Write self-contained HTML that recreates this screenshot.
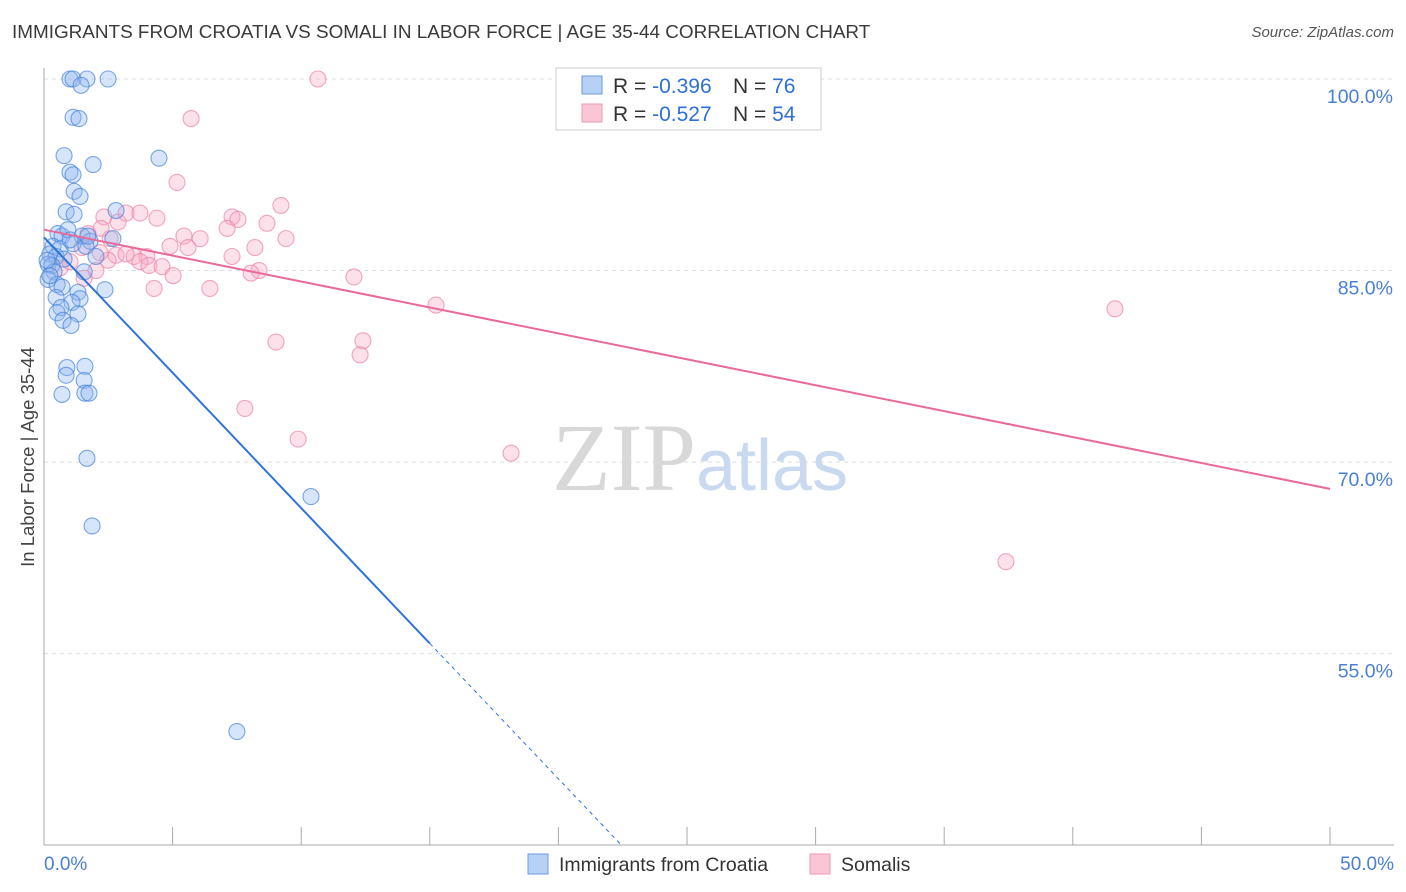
<!DOCTYPE html>
<html><head><meta charset="utf-8">
<style>
body{margin:0;background:#fff;font-family:"Liberation Sans",sans-serif;}
#wrap{position:relative;width:1406px;height:892px;overflow:hidden;}
.t{position:absolute;white-space:nowrap;}
</style></head>
<body>
<div id="wrap">
<div class="t" style="left:12px;top:22px;font-size:18.9px;color:#3a3a3a;">IMMIGRANTS FROM CROATIA VS SOMALI IN LABOR FORCE | AGE 35-44 CORRELATION CHART</div>
<div class="t" style="right:12px;top:24px;font-size:15px;color:#555;font-style:italic;">Source: ZipAtlas.com</div>
<svg id="svg" width="1406" height="892" style="position:absolute;left:0;top:0"></svg>
</div>
<script>
const blueX=[1.01,1.13,1.67,2.49,1.44,1.13,1.36,0.78,1.91,4.47,1.01,1.13,1.17,1.40,0.86,1.17,2.80,0.54,0.70,0.93,1.48,1.79,0.35,0.62,1.13,1.63,0.23,0.47,0.78,0.16,0.31,2.02,0.39,1.56,0.16,0.51,0.70,2.37,0.47,1.32,1.40,1.09,0.66,0.51,1.32,0.74,1.05,0.89,1.59,0.86,1.56,0.70,1.59,1.75,1.67,1.87,10.38,7.50,0.23,0.12,2.68,1.01,1.71];
const blueY=[100,100,100,100,99.5,97.0,96.9,94.0,93.3,93.8,92.7,92.5,91.2,90.8,89.6,89.4,89.7,87.9,87.7,88.2,87.7,87.3,86.9,86.7,87.1,86.9,86.3,86.1,85.9,85.5,85.4,86.1,84.9,84.9,84.3,83.9,83.7,83.5,82.9,83.3,82.8,82.5,82.1,81.7,81.6,81.1,80.7,77.4,77.5,76.8,76.4,75.3,75.4,75.4,70.3,65.0,67.3,48.9,84.6,85.8,87.5,87.4,87.7];
const pinkX=[10.65,5.72,5.17,2.33,2.88,3.19,3.73,4.39,2.22,1.71,2.57,1.48,6.07,5.44,4.90,5.60,7.31,7.54,7.12,8.67,9.21,9.41,8.20,7.31,4.00,2.80,3.50,2.49,3.73,4.08,4.59,8.36,8.05,5.02,2.02,1.56,4.28,6.45,12.05,15.24,9.02,12.40,12.29,7.81,9.88,18.16,37.40,41.64,0.62,1.01,2.18,3.19];
const pinkY=[100,96.9,91.9,89.2,88.8,89.5,89.5,89.1,88.3,87.9,87.5,86.8,87.5,87.7,86.9,86.8,89.2,89.0,88.3,88.7,90.1,87.5,86.8,86.1,86.1,86.2,86.1,85.8,85.7,85.4,85.3,85.0,84.8,84.6,85.0,84.4,83.6,83.6,84.5,82.3,79.4,79.5,78.4,74.2,71.8,70.7,62.2,82.0,85.2,85.7,86.4,86.3];
const blueLine=[87.6,-2.12];
const pinkLine=[88.2,-0.406];
const yTicks=[100,85,70,55];
const xTicks=[0,5,10,15,20,25,30,35,40,45,50];
const X=v=>44+v*25.72, Y=v=>79+(100-v)*12.77;
const svg=document.getElementById('svg');const NS='http://www.w3.org/2000/svg';
function mk(t,a,p){const e=document.createElementNS(NS,t);for(const k in a)e.setAttribute(k,a[k]);(p||svg).appendChild(e);return e;}
yTicks.forEach(v=>{const g=mk('line',{x1:44,x2:1394,y1:Y(v),y2:Y(v),stroke:'#ddd','stroke-dasharray':'4,4'});


const t=mk('text',{x:1393,y:Y(v)+24,'text-anchor':'end','font-size':19.5,fill:'#4a7fd4','font-family':'Liberation Sans'});t.textContent=v.toFixed(1)+'%';

});
const ax=mk('line',{x1:44,x2:44,y1:68,y2:845,stroke:'#aaa'});
const bx=mk('line',{x1:44,x2:1394,y1:845,y2:845,stroke:'#aaa'});
xTicks.forEach(v=>{const l=mk('line',{x1:X(v),x2:X(v),y1:827,y2:845,stroke:'#aaa'});

});
[[0,'0.0%','start',44],[50,'50.0%','end',1394]].forEach(d=>{const t=mk('text',{x:d[3],y:870,'text-anchor':d[2],'font-size':19,fill:'#4a7fd4','font-family':'Liberation Sans'});t.textContent=d[1];

});
const yt=mk('text',{x:34,y:457,'text-anchor':'middle','font-size':18.5,fill:'#444','font-family':'Liberation Sans',transform:'rotate(-90 34 457)'});yt.textContent='In Labor Force | Age 35-44';

const wm=mk('text',{x:720,y:490,'text-anchor':'middle','font-size':96,'font-family':'Liberation Serif',fill:'#d8d8d8'});wm.innerHTML='ZIP<tspan fill="#c9d9ef" font-family="Liberation Sans" font-size="72">atlas</tspan>';
wm.setAttribute('x','720');

wm.setAttribute('x','700');
function pts(xs,ys,fill,stroke,name){xs.forEach((x,i)=>{const c=mk('circle',{cx:X(x),cy:Y(ys[i]),r:8,fill:fill,stroke:stroke,'stroke-width':1.1});

});}
pts(pinkX,pinkY,'rgba(248,170,195,0.35)','rgba(236,130,165,0.7)','somali-point');
pts(blueX,blueY,'rgba(140,180,240,0.35)','rgba(70,130,220,0.7)','croatia-point');
const bl=mk('line',{x1:X(0),y1:Y(blueLine[0]),x2:X(15),y2:Y(blueLine[0]+15*blueLine[1]),stroke:'#2f74d9','stroke-width':2});

const xe=(40-blueLine[0])/blueLine[1];
const bd=mk('line',{x1:X(15),y1:Y(blueLine[0]+15*blueLine[1]),x2:X(xe),y2:Y(40),stroke:'#2f74d9','stroke-width':1,'stroke-dasharray':'4,4'});

const pl=mk('line',{x1:X(0),y1:Y(pinkLine[0]),x2:X(50),y2:Y(pinkLine[0]+50*pinkLine[1]),stroke:'#e8699a','stroke-width':2});

const lg=mk('g',{});
mk('rect',{x:556,y:68,width:265,height:62,fill:'#fff',stroke:'#ccc'},lg);
mk('rect',{x:582,y:76,width:20,height:18,fill:'#b7d0f5',stroke:'#6b9be0'},lg);
mk('rect',{x:582,y:104,width:20,height:18,fill:'#f9c6d6',stroke:'#ec9ab6'},lg);
[[93,'-0.396','76'],[121,'-0.527','54']].forEach(r=>{const t=mk('text',{x:613,y:r[0],'font-size':21,'font-family':'Liberation Sans',fill:'#333'},lg);
t.innerHTML='R = <tspan fill="#2f6fd6">'+r[1]+'</tspan><tspan x="733">N = </tspan><tspan fill="#2f6fd6">'+r[2]+'</tspan>';});
const bl2=mk('g',{});
mk('rect',{x:528,y:854,width:20,height:20,fill:'#b7d0f5',stroke:'#6b9be0'},bl2);
mk('rect',{x:810,y:854,width:20,height:20,fill:'#f9c6d6',stroke:'#ec9ab6'},bl2);
const a=mk('text',{x:559,y:871,'font-size':19.5,'font-family':'Liberation Sans',fill:'#333'},bl2);a.textContent='Immigrants from Croatia';
const b=mk('text',{x:841,y:871,'font-size':19.5,'font-family':'Liberation Sans',fill:'#333'},bl2);b.textContent='Somalis';
</script>
</body></html>
